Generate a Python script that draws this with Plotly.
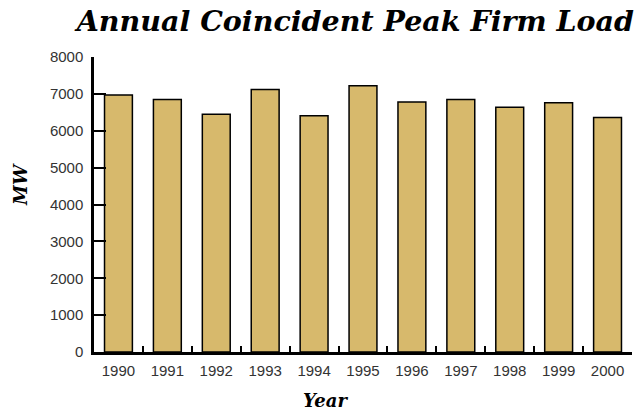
import plotly.graph_objects as go

years = ["1990", "1991", "1992", "1993", "1994", "1995", "1996", "1997", "1998", "1999", "2000"]
load_mw = [6970, 6850, 6450, 7120, 6410, 7220, 6780, 6850, 6640, 6760, 6360]
y_ticks = [0, 1000, 2000, 3000, 4000, 5000, 6000, 7000, 8000]

fig = go.Figure()
fig.add_trace(go.Bar(
    x=years, y=load_mw,
    marker=dict(color="#D7B96C", line=dict(color="black", width=1.5)),
    width=0.57,
))

fig.update_layout(
    width=642, height=410,
    margin=dict(l=94, r=10, t=57, b=58, autoexpand=False),
    paper_bgcolor="white", plot_bgcolor="white",
    showlegend=False,
    title=dict(
        text="<b><i>Annual Coincident Peak Firm Load</i></b>",
        font=dict(family="DejaVu Serif", size=28.5, color="black"),
        x=634 / 642, xanchor="right", xref="container", y=1 - 11 / 410, yanchor="top", yref="container",
    ),
    xaxis=dict(
        type="category", automargin=False,
        showline=True, linecolor="black", linewidth=2.5,
        ticks="inside", tickson="boundaries", ticklen=6, tickwidth=2, tickcolor="black",
        tickfont=dict(family="Liberation Sans", size=15, color="#333"),
        ticklabelstandoff=3,
        showgrid=False,
    ),
    yaxis=dict(
        range=[0, 8000], automargin=False,
        tickvals=y_ticks,
        showline=True, linecolor="black", linewidth=2.5,
        ticks="inside", ticklen=12, tickwidth=2, tickcolor="black",
        tickfont=dict(family="Liberation Sans", size=15, color="#333"),
        ticklabelstandoff=5,
        showgrid=False, zeroline=False,
    ),
    annotations=[
        dict(text="<b><i>Year</i></b>", xref="paper", yref="paper", x=(325 - 94) / 538, y=-(400 - 352) / 295,
             xanchor="center", yanchor="middle", showarrow=False,
             font=dict(family="DejaVu Serif", size=18, color="black")),
        dict(text="<b><i>MW</i></b>", xref="paper", yref="paper", x=-(94 - 20) / 538, y=(352 - 185) / 295,
             xanchor="center", yanchor="middle", showarrow=False, textangle=-90,
             font=dict(family="DejaVu Serif", size=18, color="black")),
    ],
)

fig.write_html("out.html", config={"displayModeBar": False},
               post_script="document.body.style.margin='0';document.body.style.overflow='hidden';")
